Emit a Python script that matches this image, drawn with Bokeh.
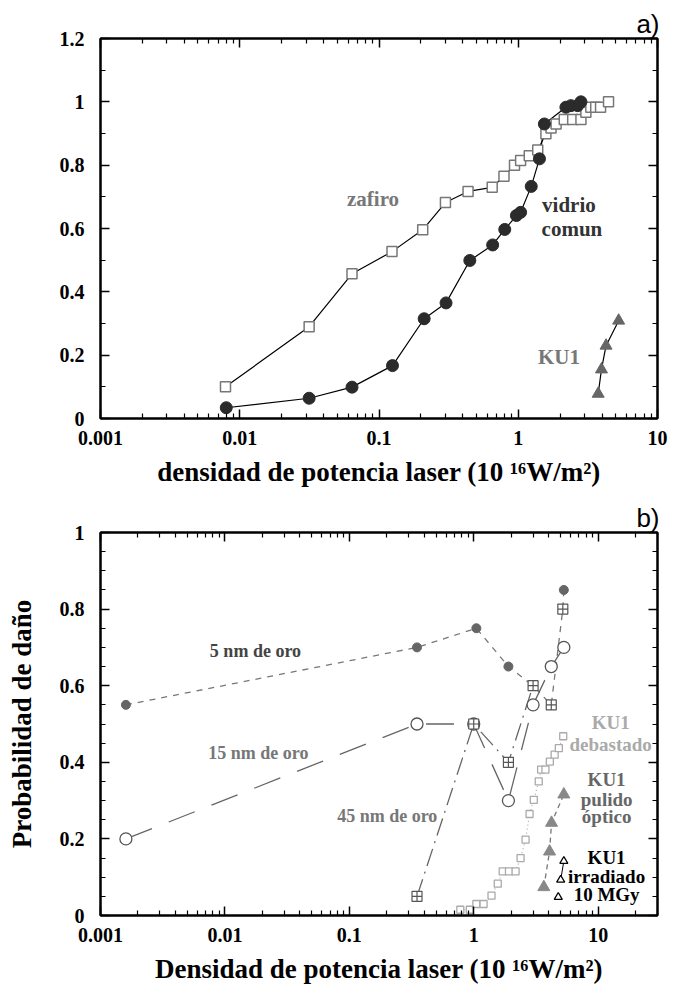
from bokeh.plotting import figure
from bokeh.layouts import column
from bokeh.models import (LogAxis, LinearAxis, Label, FixedTicker, Range1d,
                          CustomJSTickFormatter)
from bokeh.embed import file_html
from bokeh.resources import INLINE

# ---------------- Panel a data ----------------
zafiro_x = [0.0079, 0.0315, 0.064, 0.124, 0.206, 0.30, 0.436, 0.65, 0.79, 0.94,
            1.04, 1.2, 1.38, 1.58, 1.72, 1.87, 2.14, 2.46, 2.82, 3.06, 3.32, 3.6,
            3.9, 4.45]
zafiro_y = [0.10, 0.29, 0.457, 0.527, 0.596, 0.682, 0.717, 0.730, 0.765, 0.80,
            0.815, 0.83, 0.848, 0.899, 0.917, 0.93, 0.944, 0.944, 0.944, 0.967,
            0.983, 0.983, 0.983, 1.0]
vidrio_x = [0.008, 0.0315, 0.064, 0.125, 0.211, 0.303, 0.449, 0.655, 0.80, 0.97,
            1.04, 1.24, 1.42, 1.54, 2.2, 2.39, 2.67, 2.82]
vidrio_y = [0.034, 0.064, 0.099, 0.167, 0.315, 0.365, 0.499, 0.548, 0.597, 0.641,
            0.651, 0.733, 0.82, 0.93, 0.983, 0.988, 0.988, 1.0]
ku1a_x = [3.75, 3.96, 4.27, 5.26]
ku1a_y = [0.078, 0.155, 0.23, 0.309]

# ---------------- Panel b data ----------------
oro5_line_x = [0.0016, 0.35, 1.05, 1.9, 3.0, 4.2, 5.2, 5.3]
oro5_line_y = [0.55, 0.70, 0.75, 0.65, 0.60, 0.55, 0.80, 0.85]
oro5_x = [0.0016, 0.35, 1.05, 1.9, 5.3]
oro5_y = [0.55, 0.70, 0.75, 0.65, 0.85]
oro15_x = [0.0016, 0.35, 1.0, 1.9, 3.0, 4.2, 5.3]
oro15_y = [0.20, 0.50, 0.50, 0.30, 0.55, 0.65, 0.70]
oro45_x = [0.35, 1.0, 1.9, 3.0, 4.2, 5.2]
oro45_y = [0.05, 0.50, 0.40, 0.60, 0.55, 0.80]
oro45_line_x = [0.35, 1.0, 1.9, 3.0]
oro45_line_y = [0.05, 0.50, 0.40, 0.60]
deb_x = [0.78, 0.93, 1.05, 1.2, 1.39, 1.56, 1.71, 1.92, 2.17, 2.38, 2.61, 2.81,
         3.04, 3.33, 3.48, 3.77, 4.09, 4.47, 4.83, 5.24]
deb_y = [0.015, 0.015, 0.03, 0.03, 0.052, 0.083, 0.115, 0.115, 0.115, 0.15, 0.198,
         0.265, 0.302, 0.35, 0.381, 0.381, 0.402, 0.42, 0.437, 0.468]
pul_x = [3.66, 4.07, 4.22, 5.3]
pul_y = [0.074, 0.167, 0.242, 0.316]
irr_x = [4.78, 5.0, 5.3]
irr_y = [0.048, 0.093, 0.142]

log_ticks = [0.001, 0.01, 0.1, 1, 10]
log_minor = [m * d for d in [0.001, 0.01, 0.1, 1, 10] for m in range(2, 10)]

SERIF = "Liberation Serif"

xfmt = CustomJSTickFormatter(code="""
if (tick >= 1) return tick.toFixed(0);
return parseFloat(tick.toPrecision(1)).toString();
""")
yfmt = CustomJSTickFormatter(code="return (Math.round(tick*10)/10).toString();")


def style_axis(ax, show_labels, tick_standoff):
    ax.axis_line_width = 2
    ax.axis_line_color = "black"
    ax.major_tick_in = 9
    ax.major_tick_out = 0
    ax.minor_tick_in = 5
    ax.minor_tick_out = 0
    ax.major_tick_line_width = 1.5
    ax.minor_tick_line_width = 1.2
    ax.major_tick_line_color = "black"
    ax.minor_tick_line_color = "black"
    if show_labels:
        ax.major_label_text_font = SERIF
        ax.major_label_text_font_style = "bold"
        ax.major_label_text_font_size = "20px"
        ax.major_label_text_color = "black"
        ax.major_label_standoff = tick_standoff
    else:
        ax.major_label_text_font_size = "0px"
        ax.major_label_text_color = None
        ax.major_label_standoff = 0


def make_fig(height, xmax, ymax, yticks, yminor, bl, bt, bb, br, tag):
    p = figure(width=679, height=height, x_axis_type="log",
               x_range=Range1d(0.001, xmax), y_range=Range1d(0, ymax),
               output_backend="svg", toolbar_location=None,
               min_border_left=bl, min_border_top=bt, min_border_bottom=bb,
               min_border_right=br)
    p.xgrid.visible = False
    p.ygrid.visible = False
    p.outline_line_color = "black"
    p.outline_line_width = 2
    p.background_fill_color = "white"
    p.border_fill_color = "white"
    xt = FixedTicker(ticks=log_ticks, minor_ticks=log_minor)
    yt = FixedTicker(ticks=yticks, minor_ticks=yminor)
    bottom = p.below[0]
    left = p.left[0]
    bottom.ticker = xt
    bottom.formatter = xfmt
    left.ticker = yt
    left.formatter = yfmt
    style_axis(bottom, True, 12)
    style_axis(left, True, 16)
    top = LogAxis(ticker=xt)
    style_axis(top, False, 0)
    p.add_layout(top, "above")
    right = LinearAxis(ticker=yt)
    style_axis(right, False, 0)
    p.add_layout(right, "right")
    p.title.text = tag
    p.title.align = "right"
    p.title.text_font = "Liberation Sans"
    p.title.text_font_style = "normal"
    p.title.text_font_size = "26px"
    p.title.text_color = "black"
    p.title.standoff = 0
    p.title.offset = -2
    return p, bottom, left


def lab(p, x, y, text, color, size, font=SERIF, style="bold"):
    p.add_layout(Label(x=x, y=y, text=text, text_color=color, text_font=font,
                       text_font_style=style, text_font_size=size,
                       text_align="center", text_baseline="middle"))


# ---------------- Panel a ----------------
pa, pa_bottom, pa_left = make_fig(
    494, 10, 1.2, [0, 0.2, 0.4, 0.6, 0.8, 1.0, 1.2],
    [0.1, 0.3, 0.5, 0.7, 0.9, 1.1], 97, 38, 76, 22, "a)")
pa_bottom.axis_label = "densidad de potencia laser (10 \u00b9\u2076W/m\u00b2)"
pa_bottom.axis_label_text_font = SERIF
pa_bottom.axis_label_text_font_style = "bold"
pa_bottom.axis_label_text_font_size = "27px"
pa_bottom.axis_label_text_color = "black"
pa_bottom.axis_label_standoff = 9

pa.line(zafiro_x, zafiro_y, line_color="black", line_width=1.2)
pa.line(vidrio_x, vidrio_y, line_color="black", line_width=1.2)
pa.line(ku1a_x, ku1a_y, line_color="black", line_width=1.2)
pa.scatter(zafiro_x, zafiro_y, marker="square", size=10, fill_color="white",
           line_color="#777777", line_width=1.5)
pa.scatter(vidrio_x, vidrio_y, marker="circle", size=12, fill_color="#2b2b2b",
           line_color="#2b2b2b")
pa.scatter(ku1a_x, ku1a_y, marker="triangle", size=12, fill_color="#666666",
           line_color="#666666")

lab(pa, 0.0906, 0.692, "zafiro", "#777777", "21px")
lab(pa, 2.31, 0.673, "vidrio", "#333333", "21px")
lab(pa, 2.43, 0.600, "comun", "#333333", "21px")
lab(pa, 1.96, 0.193, "KU1", "#777777", "21px")

# ---------------- Panel b ----------------
pb, pb_bottom, pb_left = make_fig(
    498, 30, 1.0, [0, 0.2, 0.4, 0.6, 0.8, 1.0],
    [0.05, 0.1, 0.15, 0.25, 0.3, 0.35, 0.45, 0.5, 0.55, 0.65, 0.7, 0.75,
     0.85, 0.9, 0.95], 100, 38, 77, 22, "b)")
pb_bottom.axis_label = "Densidad de potencia laser (10 \u00b9\u2076W/m\u00b2)"
pb_left.axis_label = "Probabilidad de da\u00f1o"
for ax in (pb_bottom, pb_left):
    ax.axis_label_text_font = SERIF
    ax.axis_label_text_font_style = "bold"
    ax.axis_label_text_font_size = "27px"
    ax.axis_label_text_color = "black"
pb_bottom.axis_label_standoff = 9
pb_left.axis_label_standoff = 20

pb.line(oro5_line_x, oro5_line_y, line_color="#777777", line_width=1.3,
        line_dash="6 6")
pb.line(oro15_x, oro15_y, line_color="#666666", line_width=1.3,
        line_dash="28 18")
pb.line(oro45_line_x, oro45_line_y, line_color="#666666", line_width=1.3,
        line_dash="18 6 2 6")
pb.line(deb_x, deb_y, line_color="#aaaaaa", line_width=1.2, line_dash="1 3")
pb.line(pul_x, pul_y, line_color="#777777", line_width=1.3, line_dash="5 4")
pb.line(irr_x[1:], irr_y[1:], line_color="black", line_width=1)

pb.scatter(oro5_x, oro5_y, marker="circle", size=9, fill_color="#666666",
           line_color="#666666")
pb.scatter(oro15_x, oro15_y, marker="circle", size=12, fill_color="white",
           line_color="#555555", line_width=1.3)
pb.scatter(oro45_x, oro45_y, marker="square_cross", size=10, fill_color="white",
           line_color="#555555", line_width=1.2)
pb.scatter(deb_x, deb_y, marker="square", size=7, fill_color="white",
           line_color="#aaaaaa", line_width=1.3)
pb.scatter(pul_x, pul_y, marker="triangle", size=12, fill_color="#888888",
           line_color="#888888")
pb.scatter(irr_x, irr_y, marker="triangle", size=8, fill_color="white",
           line_color="black", line_width=1.3)

lab(pb, 0.0176, 0.691, "5 nm de oro", "#444444", "18px")
lab(pb, 0.0186, 0.425, "15 nm de oro", "#777777", "18px")
lab(pb, 0.2018, 0.261, "45 nm de oro", "#777777", "18px")
lab(pb, 12.6, 0.504, "KU1", "#aaaaaa", "19px")
lab(pb, 12.6, 0.446, "debastado", "#aaaaaa", "19px")
lab(pb, 11.7, 0.355, "KU1", "#666666", "19px")
lab(pb, 11.7, 0.303, "pulido", "#666666", "19px")
lab(pb, 11.7, 0.258, "\u00f3ptico", "#666666", "19px")
lab(pb, 11.7, 0.151, "KU1", "black", "19px")
lab(pb, 11.7, 0.102, "irradiado", "black", "19px")
lab(pb, 11.7, 0.055, "10 MGy", "black", "19px")

layout = column(pa, pb)
open("out.html", "w").write(file_html(layout, INLINE))
